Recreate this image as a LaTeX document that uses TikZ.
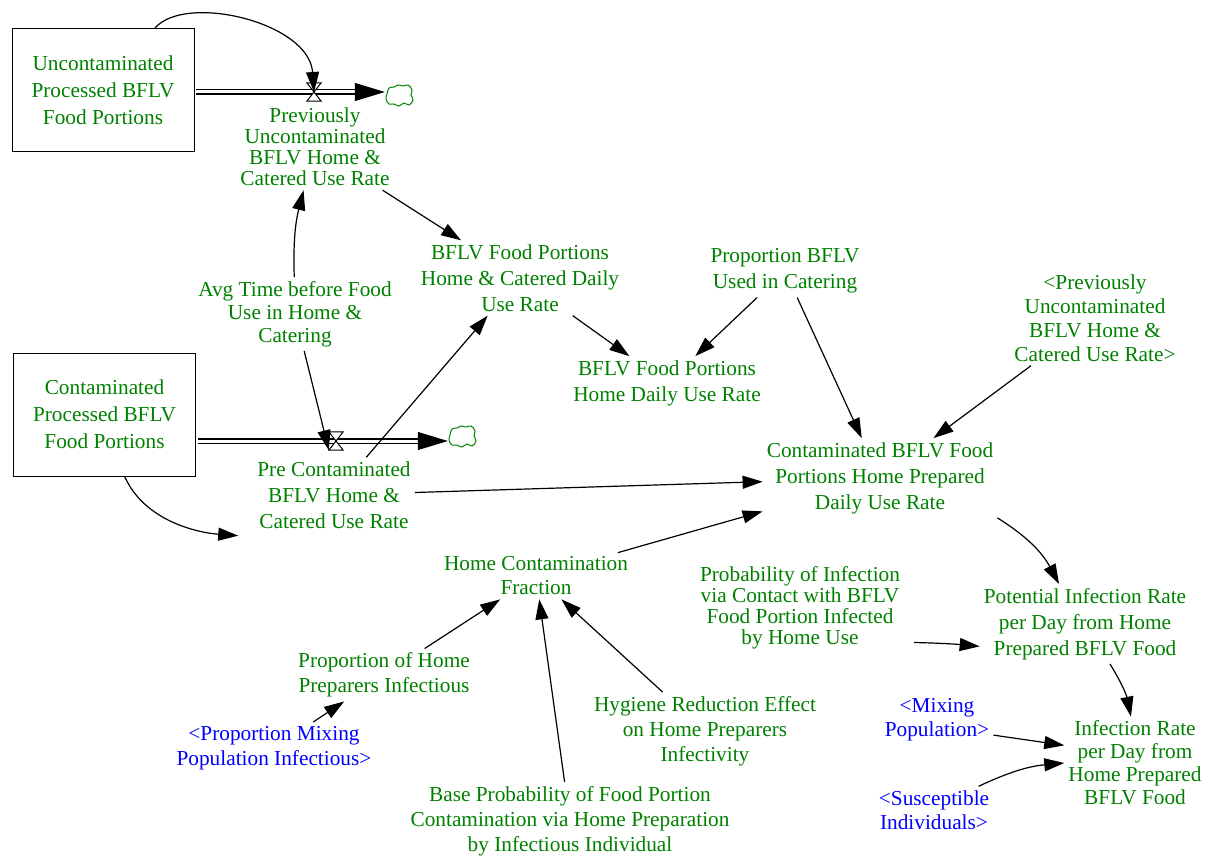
\documentclass[tikz,border=0pt]{standalone}
\usepackage{fontspec}
\setmainfont{Liberation Serif}
\usetikzlibrary{arrows.meta}
\definecolor{vgreen}{RGB}{0,128,0}
\definecolor{vblue}{RGB}{0,0,255}
\begin{document}
\begin{tikzpicture}[x=1pt,y=-1pt,
  every node/.style={font=\fontsize{21.3}{26}\selectfont},
  var/.style={text=vgreen, align=center, inner sep=4pt},
  shadow/.style={text=vblue, align=center, inner sep=4pt},
  skip/.style={font=\fontsize{21.3}{#1}\selectfont},
  stock/.style={draw=black, line width=0.9pt, text=vgreen, align=center,
    minimum width=182pt, minimum height=123pt, font=\fontsize{21.3}{27}\selectfont},
  valve/.style={minimum width=14pt, minimum height=18pt, inner sep=0pt},
  valveline/.style={draw=black, fill=white, line width=1pt, line join=miter},
  cloudnode/.style={minimum width=28pt, minimum height=22pt, inner sep=0pt},
  cloudline/.style={draw=vgreen, line width=1pt},
  link/.style={draw=black, line width=1.2pt, -{Triangle[length=20pt,width=13pt]}},
  pipe/.style={draw=black, line width=1.4pt, double=white, double distance=3pt},
  flowhead/.style={-{Triangle[length=30pt,width=18pt]}, line width=1pt},
]
\useasboundingbox (0,0) rectangle (1206,856);

% stocks
\node[stock] (S1) at (103,90) {Uncontaminated\\Processed BFLV\\Food Portions};
\node[stock] (S2) at (104.5,414.5) {Contaminated\\Processed BFLV\\Food Portions};

% valves and sinks
\node[valve] (V1) at (314,92) {};
\node[valve] (V2) at (336,441) {};
\node[cloudnode] (C1) at (399,95) {};
\node[cloudnode] (C2) at (462,436) {};

% variables
\node[var, skip=21] (L1) at (315,147) {Previously\\Uncontaminated\\BFLV Home \&\\Catered Use Rate};
\node[var] (L2) at (334,495) {Pre Contaminated\\BFLV Home \&\\Catered Use Rate};
\node[var, skip=23] (Avg) at (295,314) {Avg Time before Food\\Use in Home \&\\Catering};
\node[var] (HC) at (520,278) {BFLV Food Portions\\Home \& Catered Daily\\Use Rate};
\node[var] (HD) at (667,383) {BFLV Food Portions\\Home Daily Use Rate};
\node[var] (PB) at (785,271) {Proportion BFLV\\Used in Catering};
\node[var, skip=24] (PU) at (1095,318) {<Previously\\Uncontaminated\\BFLV Home \&\\Catered Use Rate>};
\node[var] (CB) at (880,478) {Contaminated BFLV Food\\Portions Home Prepared\\Daily Use Rate};
\node[var, skip=24] (HCF) at (536,576) {Home Contamination\\Fraction};
\node[var, skip=21] (PI) at (800,608) {Probability of Infection\\via Contact with BFLV\\Food Portion Infected\\by Home Use};
\node[var] (PIR) at (1085,624) {Potential Infection Rate\\per Day from Home\\Prepared BFLV Food};
\node[var, skip=25] (PH) at (384,675) {Proportion of Home\\Preparers Infectious};
\node[shadow, skip=25] (PMP) at (274,748) {<Proportion Mixing\\Population Infectious>};
\node[var, skip=25] (HR) at (705,731) {Hygiene Reduction Effect\\on Home Preparers\\Infectivity};
\node[var, skip=25] (BP) at (570,821) {Base Probability of Food Portion\\Contamination via Home Preparation\\by Infectious Individual};
\node[shadow, skip=24] (MP) at (937,720) {<Mixing\\Population>};
\node[var, skip=23] (IR) at (1135,763) {Infection Rate\\per Day from\\Home Prepared\\BFLV Food};
\node[shadow, skip=24] (SI) at (934,810) {<Susceptible\\Individuals>};

% flow pipes
\coordinate (H1) at (C1.west |- V1);
\coordinate (H2) at (C2.west |- V2);
\draw[pipe] ([xshift=2pt]S1.east |- V1) -- ([xshift=-28pt]H1);
\draw[flowhead] ([xshift=-30pt]H1) -- (H1);
\draw[pipe] ([xshift=2pt]S2.east |- V2) -- ([xshift=-28pt]H2);
\draw[flowhead] ([xshift=-30pt]H2) -- (H2);

% valves
\foreach \v in {V1,V2}
  \draw[valveline] (\v.north west) -- (\v.north east) -- (\v.south west) -- (\v.south east) -- cycle;

% clouds
\foreach \c in {C1,C2}
  \draw[cloudline, shift={(\c)}] plot[smooth cycle, tension=0.7] coordinates
    {(-12,-1) (-10,-7) (-5,-8) (-1,-10) (4,-9) (9,-10) (13,-5) (12,0) (14,5) (10,10) (5,8) (0,11) (-5,9) (-10,9) (-13,4)};

% links
\draw[link] (S1.50) .. controls +(30,-35) and +(-5,-70) .. (V1.center);
\draw[link] (L1) -- (HC);
\draw[link] (Avg) to[bend left=8] (L1);
\draw[link] (Avg) -- (V2.south west);
\draw[link] (L2) -- (HC);
\draw[link] (HC) -- (HD);
\draw[link] (PB) -- (HD);
\draw[link] (PB) -- (CB);
\draw[link] (PU) -- (CB);
\draw[link] (L2) -- (CB);
\draw[link] (S2.-72) .. controls +(20,45) and +(-40,-3) .. ([xshift=-15pt,yshift=-3pt]L2.south west);
\draw[link] (HCF) -- (CB);
\draw[link] (CB.south east) to[bend left=15] (PIR.123);
\draw[link] ([xshift=10pt,yshift=11pt]PI.south east) to[bend left=2] (PIR.192);
\draw[link] (PH) -- (HCF);
\draw[link] (PMP) -- (PH);
\draw[link] (HR) -- (HCF);
\draw[link] (BP) -- (HCF);
\draw[link] (PIR.-58) to[bend left=10] (IR.95);
\draw[link] (MP.-15) -- (IR.166);
\draw[link] (SI.28) to[bend left=10] (IR.west);
\end{tikzpicture}
\end{document}
